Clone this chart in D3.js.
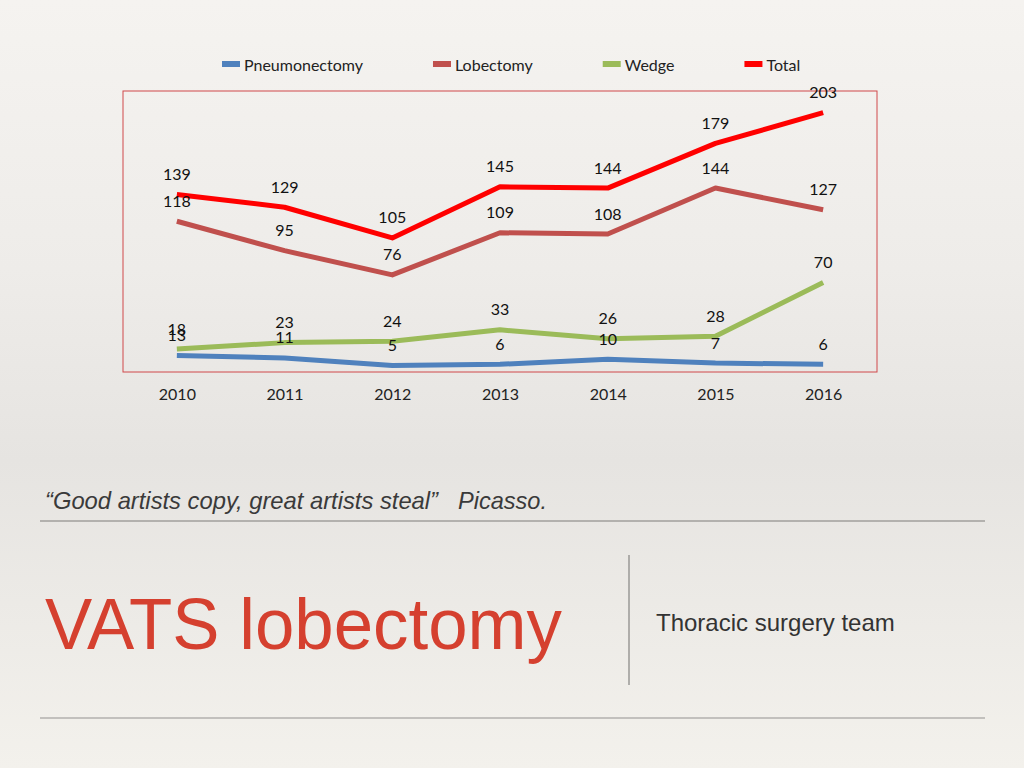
<!DOCTYPE html>
<html>
<head>
<meta charset="utf-8">
<script src="https://cdn.jsdelivr.net/npm/d3@7"></script>
<style>
  html, body { margin: 0; padding: 0; }
  body { width: 1024px; height: 768px; overflow: hidden; }
  svg { display: block; }
</style>
</head>
<body>
<svg id="chart" width="1024" height="768"></svg>
<script>
// ---- data ----
const years = ["2010", "2011", "2012", "2013", "2014", "2015", "2016"];
const seriesNames = ["Pneumonectomy", "Lobectomy", "Wedge", "Total"];
const pneumonectomy = [13, 11, 5, 6, 10, 7, 6];
const lobectomy = [118, 95, 76, 109, 108, 144, 127];
const wedge = [18, 23, 24, 33, 26, 28, 70];
const total = [139, 129, 105, 145, 144, 179, 203];
const seriesColors = ["#4f81bd", "#c0504d", "#9bbb59", "#ff0000"];
const yMax = 220;

const series = [pneumonectomy, lobectomy, wedge, total].map((vals, i) => ({
  name: seriesNames[i], color: seriesColors[i],
  values: vals.map((v, j) => ({ year: years[j], value: v }))
}));

const svg = d3.select("#chart");
const chartFont = "Lato, 'Open Sans', sans-serif";
const slideFont = "'Liberation Sans', Arial, sans-serif";

// background
const defs = svg.append("defs");
const bg = defs.append("linearGradient").attr("id", "bg").attr("x1", 0).attr("y1", 0).attr("x2", 0).attr("y2", 1);
bg.append("stop").attr("offset", "0%").attr("stop-color", "#f5f3f0");
bg.append("stop").attr("offset", "35%").attr("stop-color", "#eeece9");
bg.append("stop").attr("offset", "60%").attr("stop-color", "#e6e4e1");
bg.append("stop").attr("offset", "100%").attr("stop-color", "#f3f1ec");
svg.append("rect").attr("width", 1024).attr("height", 768).attr("fill", "url(#bg)");

// plot area
const plot = { left: 123, top: 91, right: 877, bottom: 372 };
const x = d3.scalePoint().domain(years).range([plot.left, plot.right]).padding(0.5);
const y = d3.scaleLinear().domain([0, yMax]).range([plot.bottom, plot.top]);

svg.append("rect")
  .attr("x", plot.left).attr("y", plot.top)
  .attr("width", plot.right - plot.left).attr("height", plot.bottom - plot.top)
  .attr("fill", "none").attr("stroke", "#d0484a").attr("stroke-width", 1);

// x axis
const xAxis = svg.append("g")
  .attr("transform", `translate(0,${plot.bottom + 17})`)
  .call(d3.axisBottom(x).tickSize(0).tickPadding(0));
xAxis.select(".domain").remove();
xAxis.selectAll("text")
  .attr("font-family", chartFont)
  .attr("font-size", 16).attr("fill", "#222").attr("dy", "0.71em");

// lines
const line = d3.line().x(d => x(d.year)).y(d => y(d.value));
svg.append("g").selectAll("path").data(series).join("path")
  .attr("d", d => line(d.values))
  .attr("fill", "none")
  .attr("stroke", d => d.color)
  .attr("stroke-width", 5)
  .attr("stroke-linejoin", "round");

// data labels
const lab = svg.append("g")
  .attr("font-family", chartFont)
  .attr("font-size", 16).attr("fill", "#111").attr("text-anchor", "middle");
series.forEach(s => {
  lab.selectAll(null).data(s.values).join("text")
    .attr("x", d => x(d.year))
    .attr("y", d => y(d.value) - 21)
    .attr("dominant-baseline", "central")
    .text(d => d.value);
});

// legend
const legend = svg.append("g")
  .attr("font-family", chartFont)
  .attr("font-size", 16).attr("fill", "#222");
let lx = 222;
const ly = 64;
series.forEach(s => {
  legend.append("rect").attr("x", lx).attr("y", ly - 3).attr("width", 18).attr("height", 6).attr("fill", s.color);
  const t = legend.append("text").attr("x", lx + 22).attr("y", ly).attr("dominant-baseline", "central").text(s.name);
  lx += 22 + t.node().getComputedTextLength() + 70;
});

// footer texts
svg.append("text")
  .attr("x", 45).attr("y", 509)
  .attr("font-family", slideFont)
  .attr("font-style", "italic").attr("font-size", 24).attr("fill", "#3a3a3a")
  .attr("textLength", 393).attr("lengthAdjust", "spacingAndGlyphs")
  .text("\u201cGood artists copy, great artists steal\u201d");
svg.append("text")
  .attr("x", 458).attr("y", 509)
  .attr("font-family", slideFont)
  .attr("font-style", "italic").attr("font-size", 24).attr("fill", "#3a3a3a")
  .attr("textLength", 89).attr("lengthAdjust", "spacingAndGlyphs")
  .text("Picasso.");

svg.append("line").attr("x1", 40).attr("x2", 985).attr("y1", 521).attr("y2", 521)
  .attr("stroke", "#b3b1ae").attr("stroke-width", 2);

svg.append("text")
  .attr("x", 45).attr("y", 649)
  .attr("font-family", slideFont)
  .attr("font-size", 72).attr("fill", "#d5402f")
  .attr("textLength", 517).attr("lengthAdjust", "spacingAndGlyphs")
  .text("VATS lobectomy");

svg.append("line").attr("x1", 629).attr("x2", 629).attr("y1", 555).attr("y2", 685)
  .attr("stroke", "#9a9896").attr("stroke-width", 1.5);

svg.append("text")
  .attr("x", 656).attr("y", 631)
  .attr("font-family", slideFont)
  .attr("font-size", 24).attr("fill", "#333")
  .text("Thoracic surgery team");

svg.append("line").attr("x1", 40).attr("x2", 985).attr("y1", 718).attr("y2", 718)
  .attr("stroke", "#c2c0bd").attr("stroke-width", 2);
</script>
</body>
</html>
